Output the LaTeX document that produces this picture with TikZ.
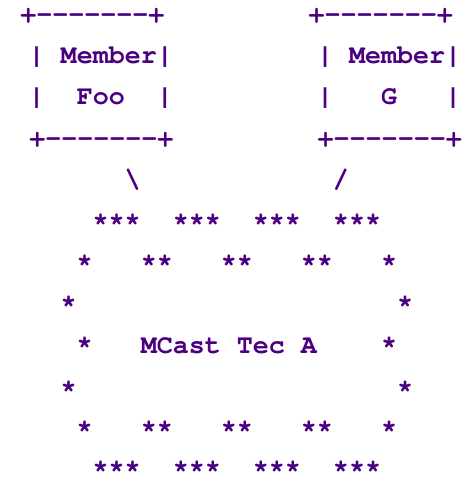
\documentclass[tikz,border=0pt]{standalone}
\usepackage{fontspec}
\setmonofont{TeX Gyre Cursor}
\definecolor{ink}{RGB}{75,0,130}
\tikzset{
  asc/.style={anchor=base west, inner sep=0pt, outer sep=0pt, text=ink,
    text depth=0pt,
    font=\ttfamily\bfseries\fontsize{26.7pt}{30pt}\selectfont}
}
\begin{document}
\begin{tikzpicture}[x=1pt,y=-1pt]
\useasboundingbox (0,0) rectangle (462,477);
\node[asc] (l1)  at (20.3, 22)    {+-------+~~~~~~~~~+-------+};
\node[asc] (l2)  at (28.7, 63)    {|~Member|~~~~~~~~~|~Member|};
\node[asc] (l3)  at (28.7, 104.7) {|~~Foo~~|~~~~~~~~~|~~~G~~~|};
\node[asc] (l4)  at (29.3, 146.3) {+-------+~~~~~~~~~+-------+};
\node[asc] (l5)  at (124.7, 187)  {\textbackslash~~~~~~~~~~~~/};
\node[asc] (l6)  at (92.7, 230.3) {***~~***~~***~~***};
\node[asc] (l7)  at (76.7, 271)   {*~~~**~~~**~~~**~~~*};
\node[asc] (l8)  at (60.7, 312.7) {*~~~~~~~~~~~~~~~~~~~~*};
\node[asc] (l9)  at (76.7, 353)   {*~~~MCast Tec A~~~~*};
\node[asc] (l10) at (60.7, 397.7) {*~~~~~~~~~~~~~~~~~~~~*};
\node[asc] (l11) at (76.7, 437.7) {*~~~**~~~**~~~**~~~*};
\node[asc] (l12) at (92.7, 477.7) {***~~***~~***~~***};
\end{tikzpicture}
\end{document}
